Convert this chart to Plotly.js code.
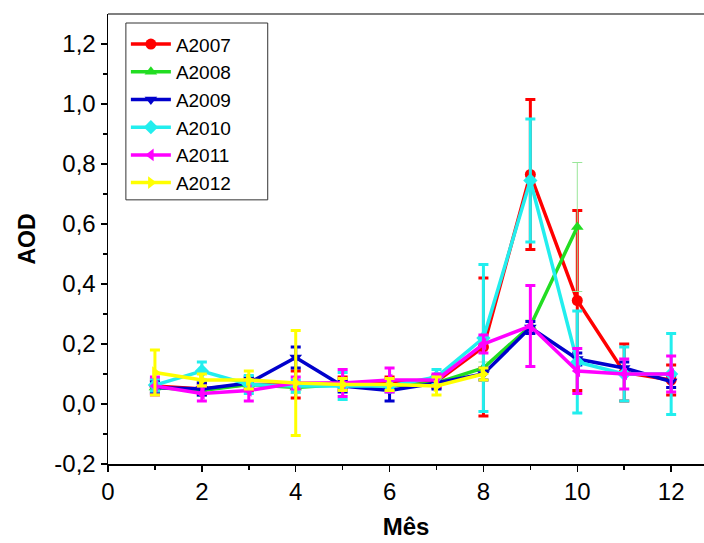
<!DOCTYPE html>
<html>
<head>
<meta charset="utf-8">
<script src="https://cdn.plot.ly/plotly-3.0.1.min.js"></script>
<style>html,body{margin:0;padding:0;background:#fff;overflow:hidden;}#chart{width:704px;height:543px;}</style>
</head>
<body>
<div id="chart"></div>
<script>
const months = [1,2,3,4,5,6,7,8,9,10,11,12];
const seriesNames = ["A2007","A2008","A2009","A2010","A2011","A2012"];

const a2007 = [0.06,0.05,0.065,0.065,0.07,0.07,0.075,0.19,0.765,0.345,0.105,0.08];
const a2007Err = [0.02,0.02,0.02,0.045,0.02,0.02,0.02,0.23,0.25,0.30,0.095,0.05];

const a2008 = [0.055,0.045,0.065,0.055,0.065,0.06,0.07,0.12,0.26,0.59];
const a2008Err = [0.02,0.02,0.02,0.02,0.02,0.02,0.02,0.02,0.02,0.215];

const a2009 = [0.055,0.05,0.07,0.155,0.06,0.045,0.07,0.10,0.255,0.15,0.12,0.075];
const a2009Err = [0.02,0.02,0.02,0.035,0.02,0.035,0.02,0.02,0.02,0.02,0.02,0.02];

const a2010 = [0.063,0.11,0.065,0.06,0.06,0.06,0.09,0.22,0.745,0.14,0.10,0.10];
const a2010Err = [0.02,0.03,0.03,0.02,0.045,0.02,0.025,0.245,0.205,0.17,0.09,0.135];

const a2011 = [0.06,0.035,0.045,0.07,0.07,0.08,0.08,0.20,0.26,0.11,0.10,0.10];
const a2011Err = [0.03,0.025,0.035,0.02,0.045,0.04,0.02,0.03,0.135,0.075,0.05,0.06];

const a2012 = [0.105,0.08,0.08,0.07,0.065,0.065,0.06,0.10];
const a2012Err = [0.075,0.02,0.03,0.175,0.02,0.02,0.03,0.02];

const yTickVals = [-0.2,0,0.2,0.4,0.6,0.8,1.0,1.2];
const yTickText = ["-0,2","0,0","0,2","0,4","0,6","0,8","1,0","1,2"];
const xTickVals = [0,2,4,6,8,10,12];
const xTickText = ["0","2","4","6","8","10","12"];

const values = [a2007,a2008,a2009,a2010,a2011,a2012];
const errors = [a2007Err,a2008Err,a2009Err,a2010Err,a2011Err,a2012Err];
const colors = ["#ff0000","#22dd22","#0000cc","#22eeee","#ff00ff","#ffff00"];
const errColors = ["#ff0000","#99e699","#0000cc","#22eeee","#ff00ff","#ffff00"];
const errThick = [3,1,3,3,3,3];
const symbols = ["circle","triangle-up","triangle-down","diamond","triangle-left","triangle-right"];

const traces = values.map((v,i)=>({
  type:"scatter", mode:"lines+markers", name: seriesNames[i], legendgroup: seriesNames[i],
  x: months.slice(0, v.length), y: v,
  line:{color:colors[i], width:3.5},
  marker:{color:colors[i], symbol:symbols[i], size:11},
  error_y:{type:"data", array:errors[i], visible:true, color:errColors[i], thickness:errThick[i], width:5}
}));

const layout = {
  width:704, height:543,
  margin:{l:108, r:0, t:14, b:79},
  paper_bgcolor:"#fff", plot_bgcolor:"#fff",
  font:{family:"Liberation Sans, Arial, sans-serif", size:20, color:"#000"},
  showlegend:true,
  legend:{x:0.03, y:0.975, xanchor:"left", yanchor:"top", bgcolor:"rgba(0,0,0,0)",
          borderwidth:0, font:{family:"Liberation Sans, Arial, sans-serif", size:19, color:"#000"},
          traceorder:"grouped", tracegroupgap:0, itemwidth:40},
  shapes:[
    {type:"line", xref:"paper", yref:"paper", x0:0, x1:1, y0:1, y1:1,
     line:{color:"#555", width:1.5}},
    {type:"rect", xref:"paper", yref:"paper", x0:0.030, x1:0.268, y0:0.587, y1:0.98,
     line:{color:"#333", width:1}, fillcolor:"#fff", layer:"above"}
  ],
  xaxis:{range:[0,12.7], tickvals:xTickVals, ticktext:xTickText,
         tickfont:{family:"Liberation Sans, Arial, sans-serif", size:24, color:"#000"},
         ticks:"outside", ticklen:6, tickwidth:1.5, tickcolor:"#000",
         showline:true, linecolor:"#000", linewidth:1.5,
         showgrid:false, zeroline:false,
         minor:{tickvals:[1,3,5,7,9,11], ticks:"outside", ticklen:4, tickcolor:"#000", showgrid:false},
         title:{text:"<b>Mês</b>", font:{family:"Liberation Sans, Arial, sans-serif", size:24}, standoff:14}},
  yaxis:{range:[-0.2,1.3], tickvals:yTickVals, ticktext:yTickText,
         tickfont:{family:"Liberation Sans, Arial, sans-serif", size:24, color:"#000"},
         ticks:"outside", ticklen:6, tickwidth:1.5, tickcolor:"#000",
         showline:true, linecolor:"#000", linewidth:1.5,
         showgrid:false, zeroline:false,
         minor:{tickvals:[-0.1,0.1,0.3,0.5,0.7,0.9,1.1], ticks:"outside", ticklen:4, tickcolor:"#000", showgrid:false},
         title:{text:"<b>AOD</b>", font:{family:"Liberation Sans, Arial, sans-serif", size:23}, standoff:12}}
};

Plotly.newPlot("chart", traces, layout, {displayModeBar:false, staticPlot:true});
</script>
</body>
</html>
